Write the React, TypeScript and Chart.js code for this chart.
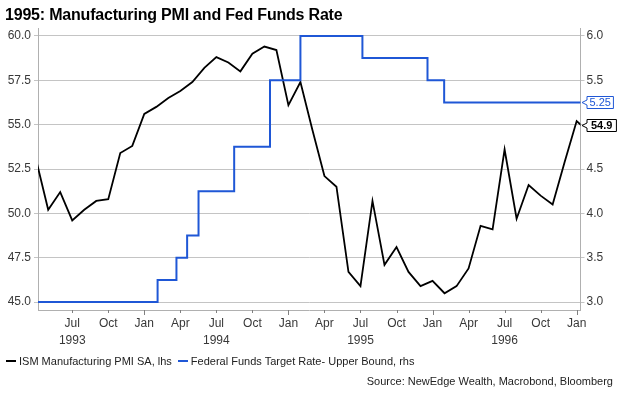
import React, { useEffect, useRef } from 'react';
import { Chart, registerables } from 'chart.js';

Chart.register(...registerables);

const TITLE = '1995: Manufacturing PMI and Fed Funds Rate';
const SOURCE = 'Source: NewEdge Wealth, Macrobond, Bloomberg';
const PMI_NAME = 'ISM Manufacturing PMI SA, lhs';
const FED_NAME = 'Federal Funds Target Rate- Upper Bound, rhs';

const pmiMonths = [
  '1993-04', '1993-05', '1993-06', '1993-07', '1993-08', '1993-09', '1993-10', '1993-11', '1993-12',
  '1994-01', '1994-02', '1994-03', '1994-04', '1994-05', '1994-06', '1994-07', '1994-08', '1994-09', '1994-10', '1994-11', '1994-12',
  '1995-01', '1995-02', '1995-03', '1995-04', '1995-05', '1995-06', '1995-07', '1995-08', '1995-09', '1995-10', '1995-11', '1995-12',
  '1996-01', '1996-02', '1996-03', '1996-04', '1996-05', '1996-06', '1996-07', '1996-08', '1996-09', '1996-10', '1996-11', '1996-12',
  '1997-01', '1997-02',
];
const pmiValues = [
  53.0, 50.2, 51.2, 49.6, 50.2, 50.7, 50.8, 53.4, 53.8,
  55.6, 56.0, 56.5, 56.9, 57.4, 58.2, 58.8, 58.5, 58.0, 59.0, 59.4, 59.2,
  56.1, 57.4, 54.7, 52.1, 51.5, 46.7, 45.9, 50.7, 47.1, 48.1, 46.7, 45.9,
  46.2, 45.5, 45.9, 46.9, 49.3, 49.1, 53.6, 49.7, 51.6, 51.0, 50.5, 52.9,
  55.2, 54.6,
];

const fedDates = [
  '1993-01-01', '1994-02-04', '1994-03-22', '1994-04-18', '1994-05-17', '1994-08-16',
  '1994-11-15', '1995-02-01', '1995-07-06', '1995-12-19', '1996-01-31', '1997-03-01',
];
const fedRates = [3.0, 3.25, 3.5, 3.75, 4.25, 4.75, 5.5, 6.0, 5.75, 5.5, 5.25, 5.25];

const xTickMonths = [
  '1993-07', '1993-10', '1994-01', '1994-04', '1994-07', '1994-10', '1995-01', '1995-04',
  '1995-07', '1995-10', '1996-01', '1996-04', '1996-07', '1996-10', '1997-01',
];
const monthNames = ['Jan', 'Feb', 'Mar', 'Apr', 'May', 'Jun', 'Jul', 'Aug', 'Sep', 'Oct', 'Nov', 'Dec'];
const leftTicks = [45, 47.5, 50, 52.5, 55, 57.5, 60];
const rightTicks = [3.0, 3.5, 4.0, 4.5, 5.0, 5.5, 6.0];
const pmiLastLabel = 54.9;
const fedLastLabel = 5.25;

const FONT = '"Liberation Sans", Arial, sans-serif';
const BLUE = '#1f57d6';
const GRID = '#c4c4c4';
const AXIS = '#b0b0b0';
const TICK_TEXT = '#383838';

function toM(s: string): number {
  const p = s.split('-').map(Number);
  const y = p[0], m = p[1], d = p[2] || 1;
  const days = new Date(y, m, 0).getDate();
  return (y - 1993) * 12 + (m - 1) + (d - 1) / days;
}

const tickMarksPlugin = {
  id: 'tickMarks',
  afterDraw(chart: any) {
    const ctx = chart.ctx;
    const xs = chart.scales.x;
    const bottom = chart.chartArea.bottom;
    ctx.save();
    ctx.strokeStyle = '#808080';
    ctx.lineWidth = 1;
    xTickMonths.forEach((m) => {
      const px = Math.round(xs.getPixelForValue(toM(m))) + 0.5;
      const isJan = m.endsWith('-01');
      ctx.beginPath();
      ctx.moveTo(px, bottom);
      ctx.lineTo(px, bottom + (isJan ? 5 : 3));
      ctx.stroke();
    });
    ctx.restore();
  },
};

function drawCallout(ctx: any, xTip: number, y: number, text: string, color: string, bold: boolean, pad: number) {
  ctx.save();
  ctx.font = `${bold ? 'bold ' : ''}11px ${FONT}`;
  const tw = ctx.measureText(text).width;
  const bx = xTip + 5;
  const w = tw + pad;
  const h = 12;
  ctx.beginPath();
  ctx.moveTo(xTip, y);
  ctx.lineTo(bx, y - 2.5);
  ctx.lineTo(bx, y - h / 2);
  ctx.lineTo(bx + w, y - h / 2);
  ctx.lineTo(bx + w, y + h / 2);
  ctx.lineTo(bx, y + h / 2);
  ctx.lineTo(bx, y + 2.5);
  ctx.closePath();
  ctx.fillStyle = '#ffffff';
  ctx.fill();
  ctx.strokeStyle = color;
  ctx.lineWidth = 1;
  ctx.stroke();
  ctx.fillStyle = color;
  ctx.textAlign = 'center';
  ctx.textBaseline = 'middle';
  ctx.fillText(text, bx + w / 2, y + 0.5);
  ctx.restore();
}

const calloutPlugin = {
  id: 'callouts',
  afterDraw(chart: any) {
    const ctx = chart.ctx;
    const xTip = chart.chartArea.right + 1.5;
    const yFed = chart.scales.y1.getPixelForValue(fedLastLabel);
    const yPmi = chart.scales.y.getPixelForValue(pmiLastLabel);
    drawCallout(ctx, xTip, Math.round(yFed) + 0.5, fedLastLabel.toFixed(2), BLUE, false, 5);
    drawCallout(ctx, xTip, Math.round(yPmi) - 0.5, pmiLastLabel.toFixed(1), '#000000', true, 8);
  },
};

export default function App() {
  const ref = useRef<HTMLCanvasElement>(null);

  useEffect(() => {
    const canvas = ref.current;
    if (!canvas) return;
    const pmiData = pmiMonths.map((m, i) => ({ x: toM(m), y: pmiValues[i] }));
    const fedData = fedDates.map((d, i) => ({ x: toM(d), y: fedRates[i] }));
    const tickFont = { family: FONT, size: 12, lineHeight: 1.35 };

    const chart = new Chart(canvas, {
      type: 'line',
      data: {
        datasets: [
          {
            label: FED_NAME,
            data: fedData,
            yAxisID: 'y1',
            borderColor: BLUE,
            borderWidth: 2,
            pointRadius: 0,
            stepped: 'before',
            fill: false,
          },
          {
            label: PMI_NAME,
            data: pmiData,
            yAxisID: 'y',
            borderColor: '#000000',
            borderWidth: 1.8,
            pointRadius: 0,
            tension: 0,
            fill: false,
          },
        ],
      },
      options: {
        responsive: false,
        animation: false,
        devicePixelRatio: 1,
        layout: { padding: { top: 28, left: 0, right: 0, bottom: 0 } },
        plugins: {
          legend: { display: false },
          title: { display: false },
          tooltip: { enabled: false },
        },
        scales: {
          x: {
            type: 'linear',
            min: 3.15,
            max: 48.32,
            afterBuildTicks: (s: any) => {
              s.ticks = xTickMonths.map((m) => ({ value: toM(m) }));
            },
            afterFit: (s: any) => {
              s.height = 85;
            },
            grid: { display: false, drawTicks: false },
            border: { display: true, color: AXIS, width: 1 },
            ticks: {
              autoSkip: false,
              maxRotation: 0,
              padding: 6,
              color: TICK_TEXT,
              font: tickFont,
              callback: (v: any) => {
                const idx = xTickMonths.findIndex((m) => Math.abs(toM(m) - v) < 1e-6);
                if (idx < 0) return '';
                const m = xTickMonths[idx];
                const mon = Number(m.split('-')[1]);
                const name = monthNames[mon - 1];
                return mon === 7 ? [name, m.split('-')[0]] : name;
              },
            },
          },
          y: {
            type: 'linear',
            position: 'left',
            min: 44.556,
            max: 60.444,
            afterBuildTicks: (s: any) => {
              s.ticks = leftTicks.map((v) => ({ value: v }));
            },
            afterFit: (s: any) => {
              s.width = 38;
            },
            grid: { color: GRID, lineWidth: 1, drawTicks: true, tickLength: 4 },
            border: { display: true, color: AXIS, width: 1 },
            ticks: {
              padding: 3,
              color: TICK_TEXT,
              font: tickFont,
              callback: (v: any) => Number(v).toFixed(1),
            },
          },
          y1: {
            type: 'linear',
            position: 'right',
            min: 2.911,
            max: 6.089,
            afterBuildTicks: (s: any) => {
              s.ticks = rightTicks.map((v) => ({ value: v }));
            },
            afterFit: (s: any) => {
              s.width = 42.5;
            },
            grid: { color: GRID, drawOnChartArea: false, drawTicks: true, tickLength: 4 },
            border: { display: true, color: AXIS, width: 1 },
            ticks: {
              padding: 2,
              color: TICK_TEXT,
              font: tickFont,
              callback: (v: any) => Number(v).toFixed(1),
            },
          },
        },
      },
      plugins: [tickMarksPlugin, calloutPlugin],
    } as any);

    return () => chart.destroy();
  }, []);

  return (
    <div style={{ position: 'absolute', left: 0, top: 0, width: 623, height: 395, background: '#ffffff', fontFamily: FONT }}>
      <canvas ref={ref} width={623} height={395} style={{ position: 'absolute', left: 0, top: 0 }} />
      <div
        style={{
          position: 'absolute', left: 5, top: 7, font: `bold 16px/16px ${FONT}`,
          letterSpacing: '-0.2px', whiteSpace: 'nowrap', color: '#000',
        }}
      >
        {TITLE}
      </div>
      <div
        style={{
          position: 'absolute', left: 6, top: 354, display: 'flex', alignItems: 'center',
          font: `11px/14px ${FONT}`, color: '#222', whiteSpace: 'nowrap',
        }}
      >
        <span style={{ display: 'inline-block', width: 10, height: 2, background: '#000', marginRight: 3 }} />
        <span>{PMI_NAME}</span>
        <span style={{ display: 'inline-block', width: 10, height: 2, background: BLUE, marginLeft: 6, marginRight: 3 }} />
        <span>{FED_NAME}</span>
      </div>
      <div
        style={{
          position: 'absolute', right: 10, top: 374, font: `11px/14px ${FONT}`,
          color: '#222', whiteSpace: 'nowrap',
        }}
      >
        {SOURCE}
      </div>
    </div>
  );
}
